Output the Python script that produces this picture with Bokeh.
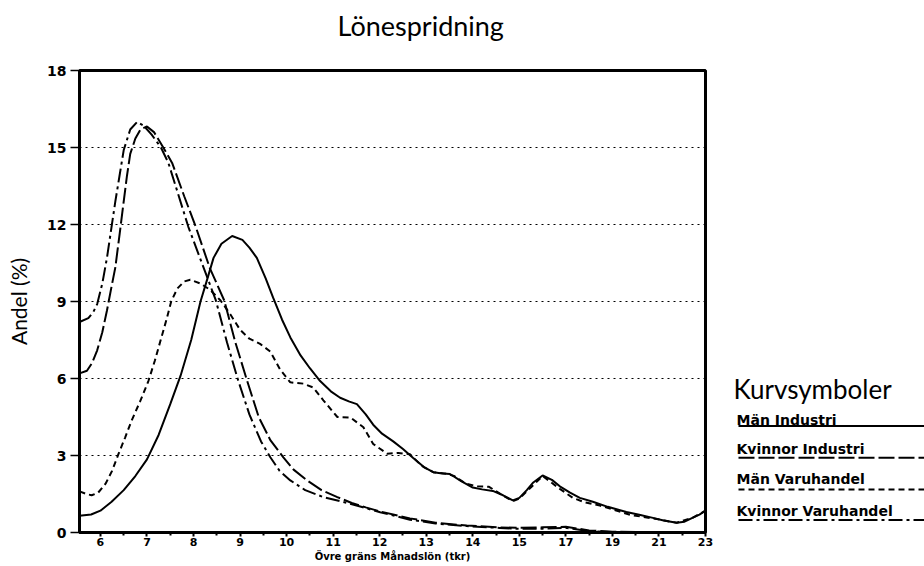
from bokeh.plotting import figure
from bokeh.models import FixedTicker, Range1d, Title
from bokeh.layouts import row
from bokeh.embed import file_html
from bokeh.resources import INLINE
from bokeh.core.properties import value

# ---------------- data ----------------
series_names = ["Män Industri", "Kvinnor Industri", "Män Varuhandel", "Kvinnor Varuhandel"]

man_ind_x = [5.55, 5.8, 6.0, 6.24, 6.5, 6.75, 7.0, 7.25, 7.5, 7.72, 7.95, 8.15, 8.3, 8.43, 8.6, 8.83,
             9.05, 9.2, 9.36, 9.55, 9.71, 9.9, 10.08, 10.3, 10.5, 10.72, 10.95, 11.15, 11.35, 11.51,
             11.7, 11.86, 12.05, 12.29, 12.5, 12.72, 12.95, 13.15, 13.35, 13.51, 13.75, 14.0, 14.2,
             14.43, 14.65, 14.86, 15.0, 15.32, 15.6, 16.0, 16.4, 16.74, 17.18, 17.6, 18.16, 18.8,
             19.6, 20.2, 20.74, 21.2, 21.76, 22.1, 22.46, 22.74, 23.0]
man_ind_y = [0.65, 0.7, 0.85, 1.2, 1.65, 2.2, 2.85, 3.8, 5.0, 6.1, 7.5, 9.0, 9.9, 10.7, 11.25, 11.55,
             11.4, 11.1, 10.7, 9.9, 9.15, 8.3, 7.6, 6.9, 6.4, 5.9, 5.5, 5.25, 5.1, 5.0,
             4.6, 4.2, 3.85, 3.55, 3.25, 2.9, 2.55, 2.35, 2.3, 2.28, 2.0, 1.75, 1.68,
             1.62, 1.45, 1.25, 1.35, 1.65, 1.95, 2.22, 2.05, 1.8, 1.55, 1.35, 1.2, 1.0,
             0.8, 0.68, 0.57, 0.47, 0.38, 0.42, 0.58, 0.7, 0.85]

kv_ind_x = [5.55, 5.71, 5.82, 5.93, 6.04, 6.14, 6.23, 6.32, 6.41, 6.5, 6.57, 6.64, 6.75, 6.86, 7.0,
            7.15, 7.35, 7.54, 7.8, 8.05, 8.35, 8.66, 8.9, 9.15, 9.4, 9.65, 9.93, 10.15, 10.44, 10.75,
            11.09, 11.4, 11.7, 12.01, 12.65, 13.2, 13.87, 14.58, 15.0, 16.0, 17.0, 18.0, 19.0, 23.0]
kv_ind_y = [6.2, 6.3, 6.6, 7.1, 7.8, 8.65, 9.5, 10.33, 11.6, 12.9, 13.9, 14.75, 15.35, 15.7, 15.82,
            15.6, 15.0, 14.4, 13.1, 11.9, 10.3, 9.04, 7.4, 5.92, 4.5, 3.6, 2.93, 2.45, 2.03, 1.65,
            1.38, 1.15, 0.98, 0.82, 0.55, 0.38, 0.27, 0.2, 0.18, 0.2, 0.22, 0.08, 0.03, 0.0]

man_var_x = [5.55, 5.7, 5.81, 5.95, 6.11, 6.25, 6.39, 6.53, 6.67, 6.85, 7.03, 7.17, 7.31, 7.42, 7.52,
             7.65, 7.8, 7.93, 8.15, 8.36, 8.58, 8.79, 9.0, 9.2, 9.43, 9.65, 9.86, 10.08, 10.36, 10.57,
             10.79, 11.09, 11.37, 11.65, 11.86, 12.16, 12.4, 12.65, 12.9, 13.15, 13.4, 13.6, 13.85,
             14.1, 14.35, 14.55, 14.86, 15.0, 15.32, 16.0, 16.74, 17.3, 17.8, 18.46, 19.0, 19.8,
             20.74, 21.76, 22.46, 23.0]
man_var_y = [1.6, 1.5, 1.45, 1.55, 1.9, 2.4, 3.07, 3.7, 4.36, 5.1, 5.9, 6.7, 7.6, 8.3, 9.0,
             9.5, 9.78, 9.85, 9.7, 9.45, 9.04, 8.5, 7.9, 7.55, 7.35, 7.05, 6.35, 5.85, 5.8, 5.65,
             5.15, 4.5, 4.48, 4.1, 3.45, 3.07, 3.1, 3.05, 2.6, 2.35, 2.3, 2.2, 1.9,
             1.8, 1.78, 1.55, 1.22, 1.32, 1.6, 2.2, 1.7, 1.35, 1.18, 1.05, 0.9, 0.68,
             0.55, 0.38, 0.58, 0.85]

kv_var_x = [5.55, 5.74, 5.85, 5.93, 6.04, 6.14, 6.23, 6.32, 6.41, 6.5, 6.64, 6.79, 6.93, 7.1, 7.3,
            7.46, 7.65, 7.89, 8.2, 8.48, 8.72, 8.96, 9.2, 9.45, 9.65, 9.85, 10.08, 10.4, 10.79, 11.2,
            11.6, 12.01, 12.65, 13.2, 13.87, 14.58, 15.0, 16.0, 17.0, 18.0, 19.0, 23.0]
kv_var_y = [8.2, 8.35, 8.6, 8.9, 9.7, 10.7, 11.8, 12.9, 13.9, 14.9, 15.7, 16.0, 15.85, 15.5, 15.0,
            14.4, 13.3, 11.9, 10.4, 9.04, 7.4, 5.92, 4.6, 3.55, 2.93, 2.4, 2.03, 1.65, 1.38, 1.2,
            1.0, 0.79, 0.5, 0.35, 0.25, 0.18, 0.14, 0.15, 0.18, 0.05, 0.02, 0.0]

x_ticks = [6, 7, 8, 9, 10, 11, 12, 13, 14, 15, 17, 19, 21, 23]
x_tick_labels = ["6", "7", "8", "9", "10", "11", "12", "13", "14", "15", "17", "19", "21", "23"]
y_ticks = [0, 3, 6, 9, 12, 15, 18]

title_text = "Lönespridning"
x_label = "Övre gräns Månadslön (tkr)"
y_label = "Andel (%)"
legend_title = "Kurvsymboler"


# axis is linear in tkr up to 15, then compressed by two (ticks every 2 tkr)
def pos(x):
    return x if x <= 15 else 15 + (x - 15) / 2


series = [
    (man_ind_x, man_ind_y, None),
    (kv_ind_x, kv_ind_y, "16 4"),
    (man_var_x, man_var_y, "6 4"),
    (kv_var_x, kv_var_y, "14 4 3 4"),
]

p = figure(width=715, height=566, output_backend="svg", toolbar_location=None,
           x_range=Range1d(pos(5.55), pos(23)), y_range=Range1d(0, 18),
           min_border_left=79, min_border_right=10, min_border_top=70, min_border_bottom=34)
try:
    p.title_location = None
except Exception:
    p.title.text = ""
# spacer (closest to the frame) then the real title above it
p.add_layout(Title(text=" ", text_font="Lato", text_font_size="20px", standoff=2), "above")
p.add_layout(Title(text=title_text, align="left", offset=258, text_font="Lato",
                   text_font_size="27px", text_font_style="normal", text_color="black",
                   standoff=2), "above")
p.background_fill_color = "white"
p.border_fill_color = "white"
p.outline_line_color = "black"
p.outline_line_width = 3

for xs, ys, dash in series:
    kw = dict(line_color="black", line_width=2)
    if dash:
        kw["line_dash"] = dash
    p.line(x=[pos(v) for v in xs], y=ys, **kw)

# x axis
tick_pos = [int(pos(t)) for t in x_ticks]
p.xaxis.ticker = FixedTicker(ticks=tick_pos, minor_ticks=[t + 0.5 for t in range(5, 19)])
p.xaxis.major_label_overrides = {tp: lab for tp, lab in zip(tick_pos, x_tick_labels)}
p.xaxis.axis_line_width = 3
p.xaxis.major_tick_line_width = 2
p.xaxis.minor_tick_line_width = 2
p.xaxis.major_tick_out = 4
p.xaxis.major_tick_in = 0
p.xaxis.minor_tick_out = 3
p.xaxis.minor_tick_in = 0
p.xaxis.major_label_standoff = 1
p.xaxis.major_label_text_font = "DejaVu Sans"
p.xaxis.major_label_text_font_style = "bold"
p.xaxis.major_label_text_font_size = "11px"
p.xaxis.major_label_text_color = "black"
p.xaxis.axis_label = x_label
p.xaxis.axis_label_text_font = "DejaVu Sans"
p.xaxis.axis_label_text_font_style = "bold"
p.xaxis.axis_label_text_font_size = "10px"
p.xaxis.axis_label_text_color = "black"
p.xaxis.axis_label_standoff = 2

# y axis
p.yaxis.ticker = FixedTicker(ticks=y_ticks, minor_ticks=[])
p.yaxis.axis_line_width = 3
p.yaxis.major_tick_line_width = 1.5
p.yaxis.major_tick_out = 9
p.yaxis.major_tick_in = 0
p.yaxis.major_label_standoff = 4
p.yaxis.major_label_text_font = "DejaVu Sans"
p.yaxis.major_label_text_font_style = "bold"
p.yaxis.major_label_text_font_size = "14px"
p.yaxis.major_label_text_color = "black"
p.yaxis.axis_label = y_label
p.yaxis.axis_label_text_font = "Lato"
p.yaxis.axis_label_text_font_style = "normal"
p.yaxis.axis_label_text_font_size = "21px"
p.yaxis.axis_label_text_color = "black"
p.yaxis.axis_label_standoff = 13

p.xgrid.visible = False
p.ygrid.ticker = FixedTicker(ticks=[3, 6, 9, 12, 15])
p.ygrid.grid_line_color = "black"
p.ygrid.grid_line_dash = "2 4"
p.ygrid.grid_line_width = 1.2

# ---------------- legend panel (frame aligned with the chart frame) ----------------
lg = figure(width=209, height=566, output_backend="svg", toolbar_location=None,
            x_range=Range1d(0, 209), y_range=p.y_range,
            x_axis_type=None, y_axis_type=None,
            min_border_left=0, min_border_right=0, min_border_top=70, min_border_bottom=34)
lg.title = None
lg.outline_line_color = None
lg.xgrid.visible = False
lg.ygrid.visible = False
lg.background_fill_color = "white"
lg.border_fill_color = "white"

lg.text(x=[18], y=[5.6], text=[legend_title], text_font=value("Lato"), text_font_size="26px",
        text_baseline="alphabetic", text_color="black")
base_y = [4.4, 3.26, 2.07, 0.83]
line_y = [4.15, 2.91, 1.68, 0.49]
lg.text(x=[21] * 4, y=base_y, text=series_names, text_font=value("DejaVu Sans"),
        text_font_style="bold", text_font_size="14px", text_baseline="alphabetic",
        text_color="black")
for (xs, ys, dash), ly in zip(series, line_y):
    kw = dict(line_color="black", line_width=2)
    if dash:
        kw["line_dash"] = dash
    lg.line(x=[23, 209], y=[ly, ly], **kw)

layout = row(p, lg)
open("out.html", "w").write(file_html(layout, INLINE))
